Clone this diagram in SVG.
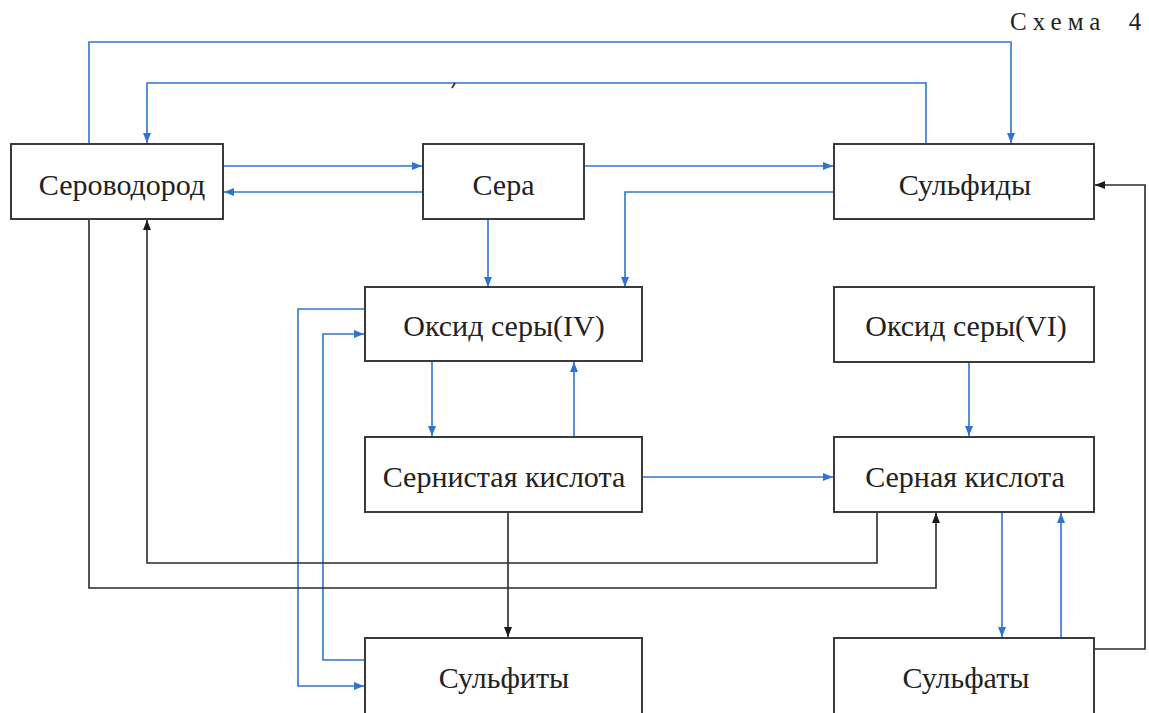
<svg xmlns="http://www.w3.org/2000/svg" width="1149" height="713" viewBox="0 0 1149 713">
<defs>
<style>
.box{fill:#fff;stroke:#3a3a3a;stroke-width:2}
.lbl{font-family:"Liberation Serif","DejaVu Serif",serif;font-size:30px;fill:#222;text-anchor:middle}
.b{fill:none;stroke:#2f74d0;stroke-width:1.6}
.k{fill:none;stroke:#2a2a2a;stroke-width:1.6}
</style>
<marker id="ab" viewBox="0 0 10 8" refX="10" refY="4" markerWidth="10" markerHeight="8" markerUnits="userSpaceOnUse" orient="auto">
<path d="M0,0 L10,4 L0,8 z" fill="#2f74d0"/>
</marker>
<marker id="ak" viewBox="0 0 10 8" refX="10" refY="4" markerWidth="10" markerHeight="8" markerUnits="userSpaceOnUse" orient="auto">
<path d="M0,0 L10,4 L0,8 z" fill="#1a1a1a"/>
</marker>
</defs>
<rect width="1149" height="713" fill="#fff"/>
<text x="1010" y="30" style="font-family:'Liberation Serif',serif;font-size:25px;fill:#222;letter-spacing:6px;word-spacing:10px">Схема <tspan style="letter-spacing:0">4</tspan></text>

<g id="connectors">
<path class="b" d="M89,144 V42 H1011 V143" marker-end="url(#ab)"/>
<path class="b" d="M926,144 V83 H147 V143" marker-end="url(#ab)"/>
<path class="k" d="M452,88 L455,83"/>
<path class="b" d="M223,166 H422" marker-end="url(#ab)"/>
<path class="b" d="M423,192 H224" marker-end="url(#ab)"/>
<path class="b" d="M584,166 H833" marker-end="url(#ab)"/>
<path class="b" d="M834,192 H625 V287" marker-end="url(#ab)"/>
<path class="b" d="M488,219 V287" marker-end="url(#ab)"/>
<path class="b" d="M365,309 H298 V686 H364" marker-end="url(#ab)"/>
<path class="b" d="M365,660 H323 V334 H364" marker-end="url(#ab)"/>
<path class="b" d="M432,361 V436" marker-end="url(#ab)"/>
<path class="b" d="M574,437 V362" marker-end="url(#ab)"/>
<path class="b" d="M642,477 H833" marker-end="url(#ab)"/>
<path class="b" d="M969,362 V436" marker-end="url(#ab)"/>
<path class="b" d="M1002,512 V637" marker-end="url(#ab)"/>
<path class="b" d="M1061,638 V513" marker-end="url(#ab)"/>
<path class="k" d="M508,512 V637" marker-end="url(#ak)"/>
<path class="k" d="M877,512 V563 H147 V220" marker-end="url(#ak)"/>
<path class="k" d="M89,219 V588 H936 V513" marker-end="url(#ak)"/>
<path class="k" d="M1094,649 H1145 V185 H1095" marker-end="url(#ak)"/>
</g>

<g id="n-serovodorod"><rect class="box" x="11" y="144" width="212" height="75"/><text class="lbl" x="122" y="195">Сероводород</text></g>
<g id="n-sera"><rect class="box" x="423" y="144" width="161" height="75"/><text class="lbl" x="503.5" y="195">Сера</text></g>
<g id="n-sulfidy"><rect class="box" x="834" y="144" width="260" height="75"/><text class="lbl" x="965" y="195">Сульфиды</text></g>
<g id="n-oksid4"><rect class="box" x="365" y="287" width="277" height="74"/><text class="lbl" x="504" y="336">Оксид серы(IV)</text></g>
<g id="n-oksid6"><rect class="box" x="834" y="287" width="260" height="75"/><text class="lbl" x="966" y="336">Оксид серы(VI)</text></g>
<g id="n-sernistaya"><rect class="box" x="365" y="437" width="277" height="75"/><text class="lbl" x="504" y="487">Сернистая кислота</text></g>
<g id="n-sernaya"><rect class="box" x="834" y="437" width="260" height="75"/><text class="lbl" x="965" y="487">Серная кислота</text></g>
<g id="n-sulfity"><rect class="box" x="365" y="638" width="277" height="80"/><text class="lbl" x="504" y="688">Сульфиты</text></g>
<g id="n-sulfaty"><rect class="box" x="834" y="638" width="260" height="80"/><text class="lbl" x="966" y="688">Сульфаты</text></g>
</svg>
